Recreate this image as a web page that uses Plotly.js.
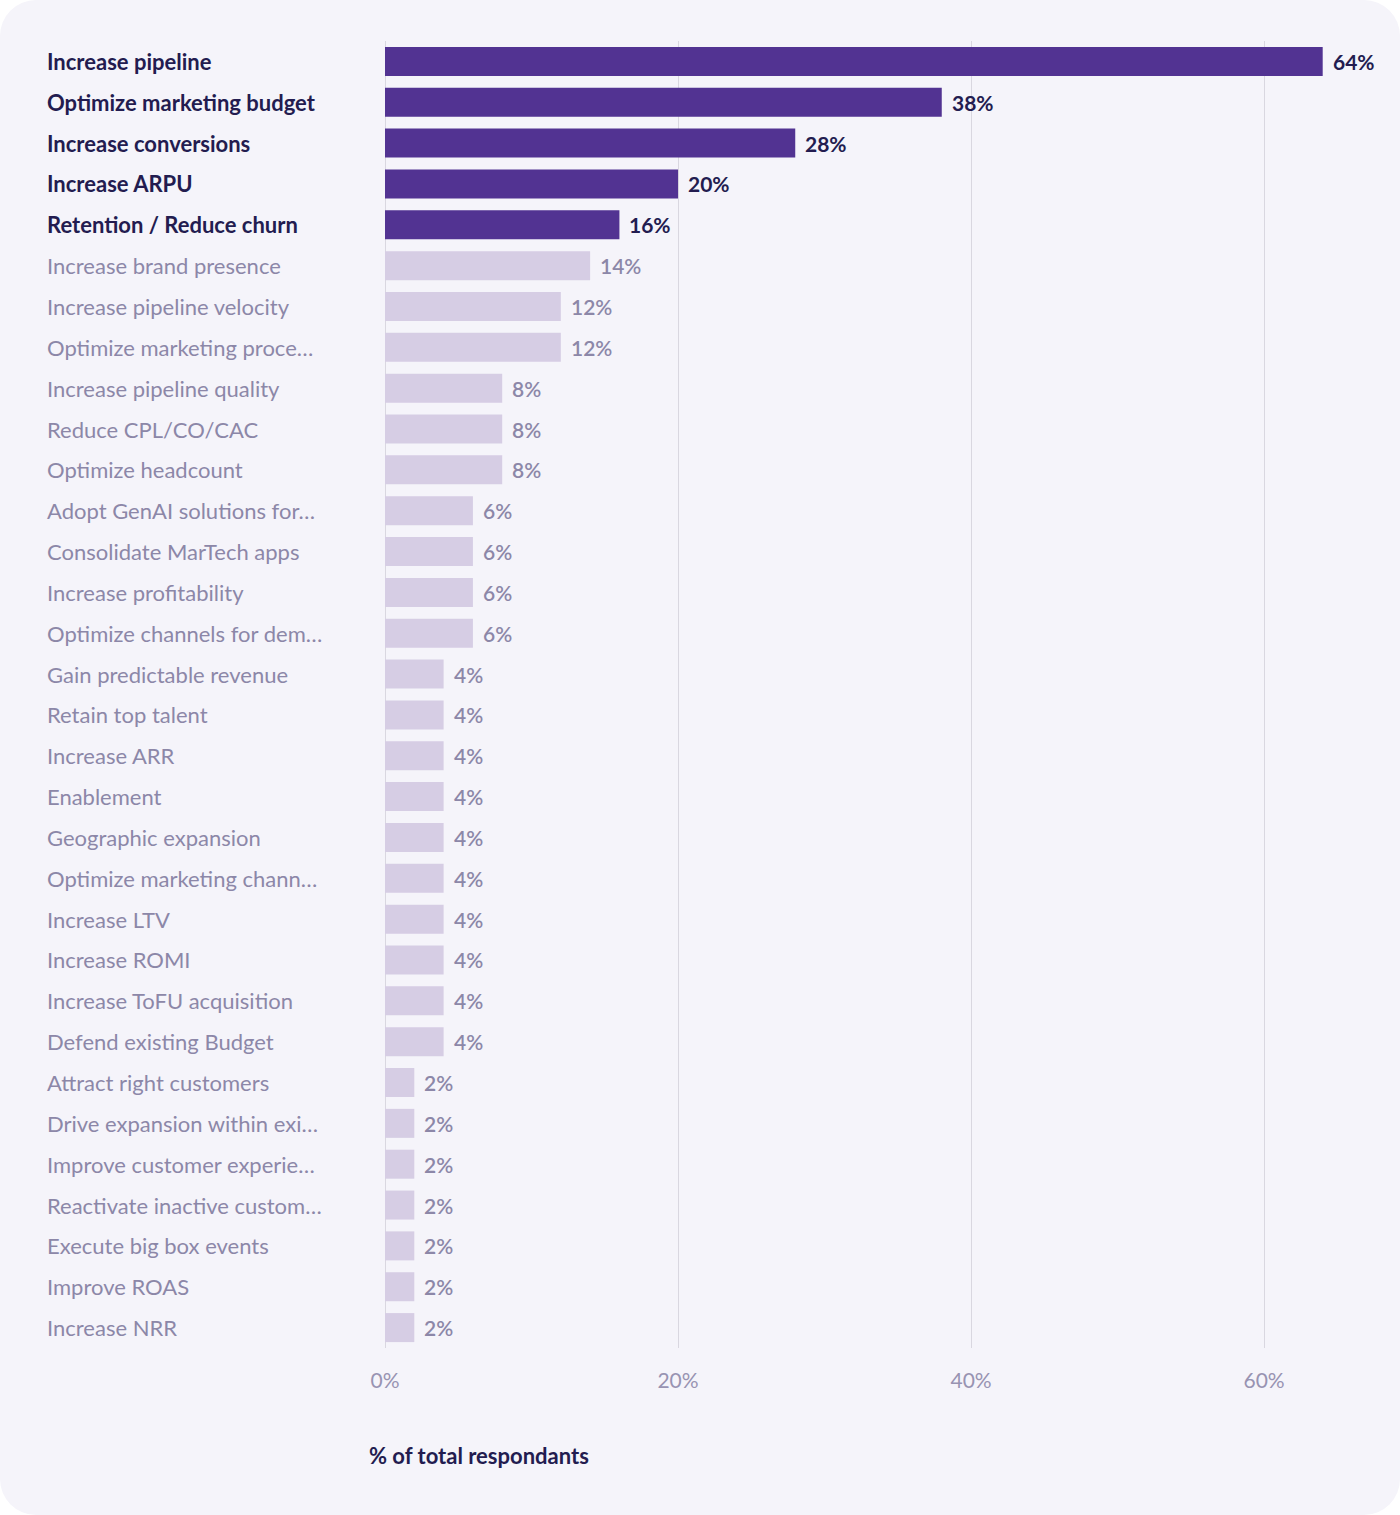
<!DOCTYPE html>
<html>
<head>
<meta charset="utf-8">
<script src="https://cdn.plot.ly/plotly-3.0.1.min.js"></script>
<style>
  html, body { margin: 0; padding: 0; background: #ffffff; }
  #card {
    width: 1400px; height: 1515px;
    background: #f5f4fa;
    border-radius: 36px;
    overflow: hidden;
  }
  #chart { width: 1400px; height: 1515px; }
</style>
</head>
<body>
<div id="card"><div id="chart"></div></div>
<script>
// Marketing goals, share of respondents (%)
const goals = [
  "Increase pipeline",
  "Optimize marketing budget",
  "Increase conversions",
  "Increase ARPU",
  "Retention / Reduce churn",
  "Increase brand presence",
  "Increase pipeline velocity",
  "Optimize marketing proce…",
  "Increase pipeline quality",
  "Reduce CPL/CO/CAC",
  "Optimize headcount",
  "Adopt GenAI solutions for…",
  "Consolidate MarTech apps",
  "Increase profitability",
  "Optimize channels for dem…",
  "Gain predictable revenue",
  "Retain top talent",
  "Increase ARR",
  "Enablement",
  "Geographic expansion",
  "Optimize marketing chann…",
  "Increase LTV",
  "Increase ROMI",
  "Increase ToFU acquisition",
  "Defend existing Budget",
  "Attract right customers",
  "Drive expansion within exi…",
  "Improve customer experie…",
  "Reactivate inactive custom…",
  "Execute big box events",
  "Improve ROAS",
  "Increase NRR"
];
const shares = [64, 38, 28, 20, 16, 14, 12, 12, 8, 8, 8, 6, 6, 6, 6,
                4, 4, 4, 4, 4, 4, 4, 4, 4, 4, 2, 2, 2, 2, 2, 2, 2];
const topCount = 5;            // leading goals drawn in the strong colour
const xTicks = [0, 20, 40, 60];
const xTickLabels = ["0%", "20%", "40%", "60%"];
const axisTitle = "% of total respondants";

const DARK_BAR = "#523392";
const LIGHT_BAR = "#d6cde4";
const DARK_TEXT = "#231c50";
const GREY_TEXT = "#8c87a8";
const FONT = "Lato, 'Open Sans', sans-serif";

const W = 1400, H = 1515;
const margin = { l: 385, r: 48, t: 41, b: 167 };
const plotW = W - margin.l - margin.r;
const plotH = H - margin.t - margin.b;

const isTop = goals.map((_, i) => i < topCount);

const traces = [
  {
    type: "bar",
    orientation: "h",
    y: goals.filter((_, i) => isTop[i]),
    x: shares.filter((_, i) => isTop[i]),
    marker: { color: DARK_BAR },
    hoverinfo: "skip"
  },
  {
    type: "bar",
    orientation: "h",
    y: goals.filter((_, i) => !isTop[i]),
    x: shares.filter((_, i) => !isTop[i]),
    marker: { color: LIGHT_BAR },
    hoverinfo: "skip"
  }
];

const annotations = [];
goals.forEach((g, i) => {
  // category name, left-aligned in the left margin
  annotations.push({
    xref: "paper", yref: "y",
    x: (45 - margin.l) / plotW, y: g,
    xanchor: "left", yanchor: "middle",
    text: g, showarrow: false,
    font: { family: FONT, size: 22, color: isTop[i] ? DARK_TEXT : GREY_TEXT,
            weight: isTop[i] ? 700 : 400 }
  });
  // value label just past the bar end
  annotations.push({
    xref: "x", yref: "y",
    x: shares[i], y: g,
    xanchor: "left", yanchor: "middle", xshift: 8,
    text: shares[i] + "%", showarrow: false,
    font: { family: FONT, size: 21, color: isTop[i] ? DARK_TEXT : GREY_TEXT,
            weight: isTop[i] ? 700 : 600 }
  });
});
// axis caption below the tick labels
annotations.push({
  xref: "paper", yref: "paper",
  x: (367 - margin.l) / plotW, y: -(1455 - (H - margin.b)) / plotH,
  xanchor: "left", yanchor: "middle",
  text: axisTitle, showarrow: false,
  font: { family: FONT, size: 22, color: DARK_TEXT, weight: 700 }
});

const layout = {
  width: W, height: H,
  margin: margin,
  paper_bgcolor: "rgba(0,0,0,0)",
  plot_bgcolor: "rgba(0,0,0,0)",
  barmode: "overlay",
  bargap: 0.29,
  showlegend: false,
  font: { family: FONT },
  xaxis: {
    range: [0, 66],
    tickvals: xTicks,
    ticktext: xTickLabels,
    showgrid: true,
    gridcolor: "#d9d7e0",
    gridwidth: 1,
    zeroline: true,
    zerolinecolor: "#d9d7e0",
    zerolinewidth: 1,
    showline: false,
    ticks: "",
    ticklabelstandoff: 18,
    tickfont: { family: FONT, size: 21, color: "#9893b2" },
    fixedrange: true
  },
  yaxis: {
    type: "category",
    categoryorder: "array",
    categoryarray: goals,
    range: [goals.length - 0.5, -0.5],
    showticklabels: false,
    showgrid: false,
    zeroline: false,
    ticks: "",
    fixedrange: true
  },
  annotations: annotations
};

Plotly.newPlot("chart", traces, layout, { displayModeBar: false, staticPlot: true });
</script>
</body>
</html>
